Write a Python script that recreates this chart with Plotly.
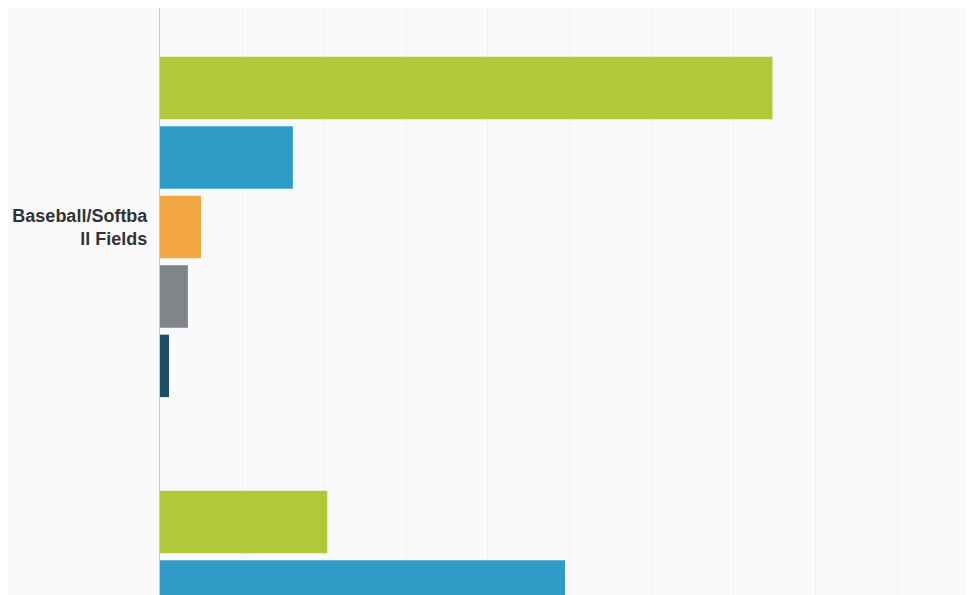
import plotly.graph_objects as go

# Data (percent of responses)
categories = ["Baseball/Softball Fields", "Next Facility"]
tick_labels = ["Baseball/Softba<br>ll Fields", "Next Facility"]
series_names = ["Response A", "Response B", "Response C", "Response D", "Response E"]
series_values = [
    [74.7, 20.4],   # green
    [16.2, 49.4],   # blue
    [5.0, 18.0],    # orange (2nd value off-picture, estimated)
    [3.4, 8.0],     # gray   (2nd value off-picture, estimated)
    [1.1, 4.0],     # dark teal (2nd value off-picture, estimated)
]
series_colors = ["#b3c73a", "#2f9bc7", "#f2a541", "#7f8588", "#1d4f66"]

fig = go.Figure()
for name, vals, col in zip(series_names, series_values, series_colors):
    fig.add_trace(go.Bar(
        y=categories, x=vals, name=name, orientation="h",
        marker=dict(color=col, line=dict(width=0)),
    ))

bg = "#fafafd"
fig.update_layout(
    width=974, height=595,
    margin=dict(l=152, r=8, t=0, b=8, pad=0),
    paper_bgcolor=bg, plot_bgcolor=bg,
    barmode="group", bargap=0.2, bargroupgap=0.1,
    showlegend=False,
    xaxis=dict(range=[0, 99.27], dtick=10, showgrid=True, gridcolor="#f2f2f6",
               gridwidth=1, zeroline=False, showticklabels=False, showline=False),
    yaxis=dict(type="category", categoryorder="array", categoryarray=categories,
               range=[0.848, -0.5046], tickvals=categories, ticktext=tick_labels,
               showline=True, linecolor="#c9c9cc", linewidth=1, ticks="",
               ticklabelstandoff=8,
               tickfont=dict(family="Liberation Sans, Arial, sans-serif", size=18,
                             color="#333333", weight="bold")),
)

fig.write_html("out.html")
